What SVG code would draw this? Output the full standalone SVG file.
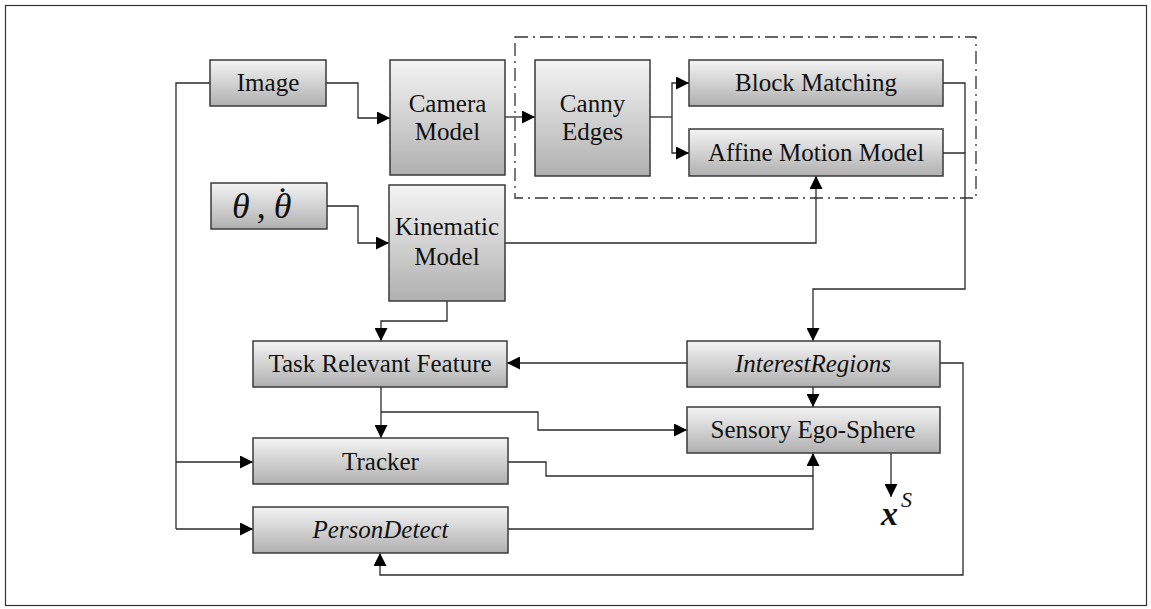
<svg xmlns="http://www.w3.org/2000/svg" width="1151" height="609" viewBox="0 0 1151 609">
  <defs>
    <linearGradient id="boxFill" x1="0" y1="0" x2="0" y2="1">
      <stop offset="0" stop-color="#f4f4f4"/>
      <stop offset="1" stop-color="#b0b0b0"/>
    </linearGradient>
    <marker id="arrow" viewBox="0 0 10 10" refX="10" refY="5" markerWidth="13" markerHeight="13" markerUnits="userSpaceOnUse" orient="auto">
      <path d="M0,0 L10,5 L0,10 z" fill="#000"/>
    </marker>
    <style>
      .box { fill: url(#boxFill); stroke: #3a3a3a; stroke-width: 1.5; }
      .lbl { font-family: "Liberation Serif", "Times New Roman", serif; font-size: 25px; fill: #111; text-anchor: middle; }
      .it { font-style: italic; }
      .math { font-family: "Liberation Serif", "Times New Roman", serif; fill: #111; }
      .wire { fill: none; stroke: #2a2a2a; stroke-width: 1.3; }
      .arr { marker-end: url(#arrow); }
    </style>
  </defs>

  <rect x="5.5" y="5.5" width="1141" height="600" fill="#fff" stroke="#333" stroke-width="1.2"/>

  <!-- dashed group around edge-based motion estimation -->
  <rect x="515" y="37" width="461" height="161" fill="none" stroke="#333" stroke-width="1.3" stroke-dasharray="13 5 2 5"/>

  <g id="connectors">
    <!-- Image to Camera Model -->
    <path class="wire arr" d="M326,83 H358 V118 H390"/>
    <!-- Image to Tracker / PersonDetect -->
    <path class="wire" d="M210,83 H176 V529"/>
    <path class="wire arr" d="M176,462 H253"/>
    <path class="wire arr" d="M176,529 H253"/>
    <!-- Camera Model to Canny Edges -->
    <path class="wire arr" d="M505,117 H535"/>
    <!-- Canny Edges to Block Matching / Affine -->
    <path class="wire" d="M650,117 H672"/>
    <path class="wire arr" d="M672,117 V83 H689"/>
    <path class="wire arr" d="M672,117 V153 H689"/>
    <!-- theta to Kinematic Model -->
    <path class="wire arr" d="M327,206 H358 V243 H389"/>
    <!-- Kinematic Model to Affine Motion Model -->
    <path class="wire arr" d="M505,243 H816 V176"/>
    <!-- Block Matching / Affine to InterestRegions -->
    <path class="wire" d="M943,83 H965 V153"/>
    <path class="wire arr" d="M943,153 H965 V289 H813 V341"/>
    <!-- Kinematic Model to Task Relevant Feature -->
    <path class="wire arr" d="M447,301 V321 H381 V341"/>
    <!-- InterestRegions to Task Relevant Feature -->
    <path class="wire arr" d="M687,363 H507"/>
    <!-- InterestRegions to Sensory Ego-Sphere -->
    <path class="wire arr" d="M813,387 V407"/>
    <!-- Task Relevant Feature to Tracker and Sensory Ego-Sphere -->
    <path class="wire arr" d="M381,387 V438"/>
    <path class="wire arr" d="M381,412 H538 V430 H687"/>
    <!-- Tracker to Sensory Ego-Sphere -->
    <path class="wire arr" d="M508,462 H546 V476 H813 V453"/>
    <!-- PersonDetect to Sensory Ego-Sphere -->
    <path class="wire" d="M508,529 H813 V476"/>
    <!-- InterestRegions feedback to PersonDetect -->
    <path class="wire arr" d="M940,363 H963 V575 H380 V553"/>
    <!-- Sensory Ego-Sphere output -->
    <path class="wire arr" d="M891,453 V497"/>
  </g>

  <g id="image">
    <rect class="box" x="210" y="60" width="116" height="46"/>
    <text class="lbl" x="268" y="91">Image</text>
  </g>
  <g id="camera-model">
    <rect class="box" x="390" y="60" width="115" height="115"/>
    <text class="lbl" x="447.5" y="112">Camera</text>
    <text class="lbl" x="447.5" y="140">Model</text>
  </g>
  <g id="canny-edges">
    <rect class="box" x="535" y="60" width="115" height="116"/>
    <text class="lbl" x="592.5" y="112">Canny</text>
    <text class="lbl" x="592.5" y="140">Edges</text>
  </g>
  <g id="block-matching">
    <rect class="box" x="689" y="60" width="254" height="46"/>
    <text class="lbl" x="816" y="91">Block Matching</text>
  </g>
  <g id="affine-motion-model">
    <rect class="box" x="689" y="129" width="254" height="47"/>
    <text class="lbl" x="816" y="161">Affine Motion Model</text>
  </g>
  <g id="joint-state">
    <rect class="box" x="211" y="183" width="116" height="46"/>
    <!-- theta, theta-dot: the dot is shifted back over the second theta -->
    <text class="math" font-size="36" x="232" y="218"><tspan font-style="italic">θ</tspan><tspan dx="7">,</tspan><tspan dx="8" font-style="italic">θ</tspan><tspan dx="-15" dy="-6">˙</tspan></text>
  </g>
  <g id="kinematic-model">
    <rect class="box" x="389" y="185" width="116" height="116"/>
    <text class="lbl" x="447" y="235">Kinematic</text>
    <text class="lbl" x="447" y="265">Model</text>
  </g>
  <g id="task-relevant-feature">
    <rect class="box" x="253" y="341" width="254" height="46"/>
    <text class="lbl" x="380" y="372">Task Relevant Feature</text>
  </g>
  <g id="interest-regions">
    <rect class="box" x="687" y="341" width="253" height="46"/>
    <text class="lbl it" x="813" y="372">InterestRegions</text>
  </g>
  <g id="sensory-ego-sphere">
    <rect class="box" x="687" y="407" width="253" height="46"/>
    <text class="lbl" x="813" y="438">Sensory Ego-Sphere</text>
  </g>
  <g id="tracker">
    <rect class="box" x="253" y="438" width="255" height="46"/>
    <text class="lbl" x="380.5" y="470">Tracker</text>
  </g>
  <g id="person-detect">
    <rect class="box" x="253" y="507" width="255" height="46"/>
    <text class="lbl it" x="380.5" y="538">PersonDetect</text>
  </g>
  <g id="output-xs">
    <text class="math" font-style="italic" font-weight="bold" font-size="34" x="881" y="525">x<tspan font-weight="normal" font-size="22" dx="3" dy="-18">S</tspan></text>
  </g>
</svg>
